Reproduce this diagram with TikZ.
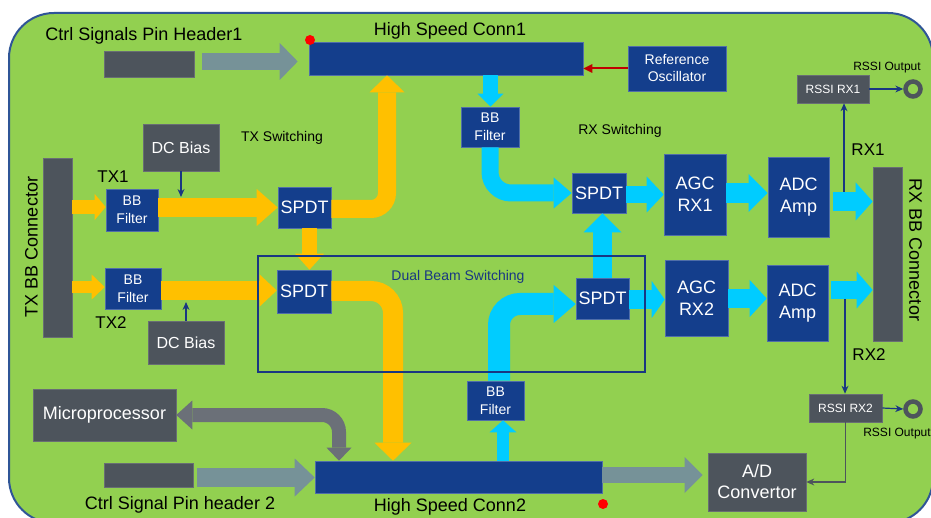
\documentclass[tikz,border=0pt]{standalone}
\usepackage{fontspec}
\setmainfont{Liberation Sans}
\usetikzlibrary{arrows.meta,calc}
\definecolor{board}{RGB}{146,208,80}
\definecolor{boardedge}{RGB}{47,85,151}
\definecolor{boxblue}{RGB}{20,62,140}
\definecolor{boxgrey}{RGB}{77,84,92}
\definecolor{ctrlarrow}{RGB}{118,146,152}
\definecolor{txorange}{RGB}{255,192,0}
\definecolor{rxcyan}{RGB}{0,204,255}
\definecolor{microgrey}{RGB}{107,112,120}
\definecolor{linkblue}{RGB}{25,55,130}
\definecolor{dotred}{RGB}{255,0,0}
\definecolor{oscred}{RGB}{192,0,0}
\newcommand\myfs[2]{\fontsize{#1}{#2}\selectfont}
\begin{document}
\begin{tikzpicture}[x=1pt,y=-1pt,
  bx/.style={rectangle,inner sep=0pt,fill=boxblue,draw=boxblue!75!white,line width=0.6pt,text=white,align=center,font=\myfs{18}{22}},
  gbx/.style={bx,fill=boxgrey,draw=boxgrey!85!white},
  fat/.style n args={3}{line width=#1,-{Triangle[width=#2,length=#3,line width=0pt 0 0]}},
  lbl/.style={inner sep=0pt,font=\myfs{18}{22}},
  sigline/.style={draw=linkblue,line width=1.4pt,-{Stealth[length=8pt,width=7pt,line width=0pt 0 0]}},
  ring/.style={circle,draw=boxgrey,line width=4.5pt,minimum size=15pt,inner sep=0pt},
  reddot/.style={circle,fill=dotred,minimum size=10pt,inner sep=0pt},
]
\useasboundingbox (0,0) rectangle (931,518);
\begin{scope}
\clip (0,0) rectangle (931,518);
\fill[white] (0,0) rectangle (931,518);
\draw[fill=board,draw=boardedge,line width=2pt,rounded corners=45pt] (9,13) rectangle (933,523);
\end{scope}

% ---------- boxes ----------
\node[gbx,minimum width=90pt,minimum height=26pt] (hdr1) at (149,64) {};
\node[bx,minimum width=274pt,minimum height=33pt] (conn1) at (446,58.5) {};
\node[bx,minimum width=98pt,minimum height=45pt,font=\myfs{14}{17}] (refosc) at (677,68.5) {Reference\\Oscillator};
\node[bx,minimum width=58pt,minimum height=40pt,font=\myfs{14}{18}] (bbrx1) at (490,127) {BB\\Filter};
\node[gbx,minimum width=76pt,minimum height=47pt,font=\myfs{16}{19}] (dcb1) at (181,147.5) {DC Bias};
\node[gbx,minimum width=29pt,minimum height=179pt] (txconn) at (57.5,247.5) {};
\node[bx,minimum width=52pt,minimum height=42pt,font=\myfs{14}{18}] (bbtx1) at (132,210) {BB\\Filter};
\node[bx,minimum width=53pt,minimum height=41pt] (spdt1) at (304.5,207.5) {SPDT};
\node[bx,minimum width=54pt,minimum height=43pt] (spdt2) at (304,291.5) {SPDT};
\node[bx,minimum width=56pt,minimum height=41pt,font=\myfs{14}{18}] (bbtx2) at (133,288.5) {BB\\Filter};
\node[gbx,minimum width=76pt,minimum height=43pt,font=\myfs{16}{19}] (dcb2) at (186,342.5) {DC Bias};
\node[bx,minimum width=54pt,minimum height=40pt] (spdtr1) at (599,193) {SPDT};
\node[bx,minimum width=53pt,minimum height=41pt] (spdtr2) at (602.5,298.5) {SPDT};
\node[bx,minimum width=62pt,minimum height=81pt] (agc1) at (695,194.5) {AGC\\RX1};
\node[bx,minimum width=63pt,minimum height=76pt] (agc2) at (696.5,298) {AGC\\RX2};
\node[bx,minimum width=61pt,minimum height=80pt] (adc1) at (798.5,197) {ADC\\Amp};
\node[bx,minimum width=61pt,minimum height=76pt] (adc2) at (797.5,303) {ADC\\Amp};
\node[gbx,minimum width=29pt,minimum height=174pt] (rxconn) at (887.5,254) {};
\node[gbx,minimum width=72pt,minimum height=28pt,font=\myfs{12}{14}] (rssi1) at (833,89) {RSSI RX1};
\node[gbx,minimum width=73pt,minimum height=28pt,font=\myfs{12}{14}] (rssi2) at (845.5,408) {RSSI RX2};
\node[gbx,minimum width=98pt,minimum height=58pt,font=\myfs{18}{21}] (adconv) at (757,482) {A/D\\Convertor};
\node[bx,minimum width=287pt,minimum height=32pt] (conn2) at (458.5,477) {};
\node[bx,minimum width=57pt,minimum height=39pt,font=\myfs{14}{18}] (bbrx2) at (495.5,400.5) {BB\\Filter};
\node[gbx,minimum width=143pt,minimum height=52pt] (micro) at (104.5,415) {Microprocessor};
\node[gbx,minimum width=89pt,minimum height=24pt] (hdr2) at (148.5,475) {};
\node[ring] (out1) at (913,89) {};
\node[ring] (out2) at (913,409) {};
\node[reddot] (dot1) at (310,40) {};
\node[reddot] (dot2) at (603,504) {};

% ---------- labels ----------
\node[lbl] (tctrl1) at (144,36) {Ctrl Signals Pin Header1};
\node[lbl] (thsc1) at (450,31) {High Speed Conn1};
\node[lbl,font=\myfs{14}{16}] (ttxsw) at (282,138) {TX Switching};
\node[lbl,font=\myfs{14}{16}] (trxsw) at (620,131) {RX Switching};
\node[lbl,font=\myfs{17}{20}] (ttx1) at (113,177) {TX1};
\node[lbl,font=\myfs{17}{20}] (ttx2) at (111,323) {TX2};
\node[lbl,font=\myfs{17}{20}] (trx1) at (868,150) {RX1};
\node[lbl,font=\myfs{17}{20}] (trx2) at (869,355) {RX2};
\node[lbl,font=\myfs{12}{14}] (tout1) at (887,68) {RSSI Output};
\node[lbl,font=\myfs{12}{14}] (tout2) at (897,434) {RSSI Output};
\node[lbl] (thsc2) at (450,507) {High Speed Conn2};
\node[lbl] (tctrl2) at (180,505) {Ctrl Signal Pin header 2};
\node[lbl,rotate=90] (ttxbb) at (31.5,247) {TX BB Connector};
\node[lbl,rotate=-90] (trxbb) at (915.5,250) {RX BB Connector};

% ---------- control arrows ----------
\draw[ctrlarrow,fat={17pt}{37pt}{18pt}] ([xshift=8pt]hdr1.east |- 0,61.5) -- ([xshift=-11pt]conn1.west |- 0,61.5);
\draw[ctrlarrow,fat={19pt}{38pt}{20pt}] ([xshift=4pt]hdr2.east |- 0,477.5) -- (conn2.west |- 0,477.5);
\draw[ctrlarrow,fat={16pt}{36pt}{18pt}] (conn2.east |- 0,475) -- ([xshift=-5pt]adconv.west |- 0,475);
\draw[microgrey,line width=14pt,rounded corners=17pt,
  {Triangle[width=29pt,length=16pt,line width=0pt 0 0]}-{Triangle[width=25pt,length=13pt,line width=0pt 0 0]}]
  (micro.east) -- (micro.east -| 339,0) -- (339,0 |- conn2.north);

% ---------- TX (orange) ----------
\draw[txorange,fat={14pt}{26pt}{11pt}] (txconn.east |- 0,207) -- (bbtx1.west |- 0,207);
\draw[txorange,fat={19pt}{37pt}{21pt}] (bbtx1.east |- 0,207.5) -- (spdt1.west |- 0,207.5);
\draw[txorange,fat={12pt}{25pt}{13pt}] (txconn.east |- 0,287) -- (bbtx2.west |- 0,287);
\draw[txorange,fat={19pt}{32pt}{17pt}] (bbtx2.east |- 0,290.5) -- (spdt2.west |- 0,290.5);
\draw[txorange,fat={18pt}{35pt}{17pt},rounded corners=16pt] (spdt1.east |- 0,209) -- (387,209) -- (387,0 |- conn1.south);
\draw[txorange,fat={15pt}{29pt}{16pt}] (309.5,0 |- spdt1.south) -- (309.5,0 |- spdt2.north);
\draw[txorange,fat={20pt}{37pt}{18pt},rounded corners=22pt] (spdt2.east |- 0,291) -- (393,291) -- (393,0 |- conn2.north);

% ---------- RX (cyan) ----------
\draw[rxcyan,fat={15pt}{26pt}{13pt}] (490.5,0 |- conn1.south) -- (490.5,0 |- bbrx1.north);
\draw[rxcyan,fat={17pt}{31pt}{18pt},rounded corners=21pt] (bbrx1.south) -- (bbrx1.south |- spdtr1.west) -- (spdtr1.west);
\draw[rxcyan,fat={22pt}{38pt}{22pt},rounded corners=21pt] (499,0 |- bbrx2.north) -- (499,304) -- (spdtr2.west |- 0,304);
\draw[rxcyan,fat={12pt}{27pt}{12pt}] (503,0 |- conn2.north) -- (503,0 |- bbrx2.south);
\draw[rxcyan,fat={19pt}{38pt}{19pt}] (602.5,0 |- spdtr2.north) -- (602.5,0 |- spdtr1.south);
\draw[rxcyan,fat={17pt}{36pt}{17pt}] (spdtr1.east |- 0,194.5) -- (agc1.west |- 0,194.5);
\draw[rxcyan,fat={20pt}{38pt}{19pt}] (agc1.east |- 0,193) -- (adc1.west |- 0,193);
\draw[rxcyan,fat={19pt}{38pt}{17pt}] ([xshift=4pt]adc1.east |- 0,201.5) -- (rxconn.west |- 0,201.5);
\draw[rxcyan,fat={19pt}{37pt}{13pt}] (spdtr2.east |- 0,299.5) -- (agc2.west |- 0,299.5);
\draw[rxcyan,fat={19pt}{37pt}{17pt}] (agc2.east |- 0,298.5) -- (adc2.west |- 0,298.5);
\draw[rxcyan,fat={18pt}{37pt}{16pt}] ([xshift=3pt]adc2.east |- 0,290) -- (rxconn.west |- 0,290);

% ---------- thin signal lines ----------
\draw[sigline] (dcb1.south) -- (dcb1.south |- 0,197);
\draw[sigline] (dcb2.north) -- (dcb2.north |- 0,302);
\draw[sigline] (844,192) -- (844,0 |- rssi1.south);
\draw[sigline] (845,299) -- (845,0 |- rssi2.north);
\draw[sigline,line width=1.2pt] (rssi1.east) -- (out1.west);
\draw[sigline,line width=1.2pt] (rssi2.east) -- (out2.west);
\draw[draw=boxgrey,line width=1.6pt,-{Stealth[length=8pt,width=7pt,line width=0pt 0 0]}] (rssi2.south) |- (adconv.east);
\draw[draw=oscred,line width=2pt,-{Triangle[length=9pt,width=9pt,line width=0pt 0 0]}] (refosc.west) -- (refosc.west -| conn1.east);

% ---------- dual beam box (over the arrows) ----------
\node[draw=linkblue,line width=2pt,minimum width=387pt,minimum height=116pt,inner sep=0pt] (dbs) at (451.5,314) {};
\node[lbl,font=\myfs{14}{16},text=linkblue] (tdbs) at (458,277) {Dual Beam Switching};
\end{tikzpicture}
\end{document}
